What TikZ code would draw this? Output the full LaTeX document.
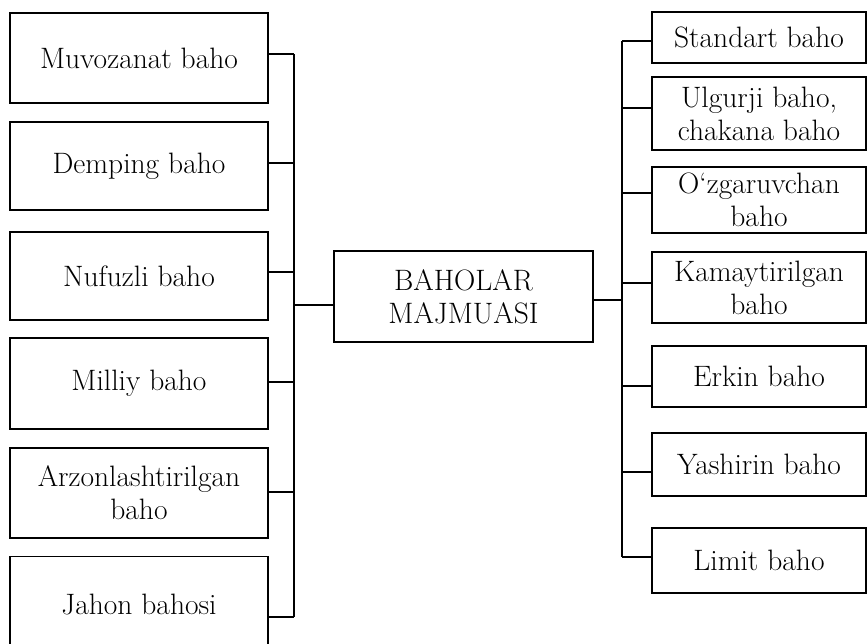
\documentclass[tikz,border=0pt]{standalone}

\tikzset{
  pricebox/.style={draw,line width=1.5pt,inner sep=0pt,align=center,
    font=\fontsize{29.5}{33}\selectfont},
  wire/.style={line width=1.3pt}
}

\begin{document}
\begin{tikzpicture}[x=1pt,y=-1pt]
        \useasboundingbox (0,0) rectangle (868,644);
        % left column
        \node[pricebox,minimum width=258pt,minimum height=90pt] (l1) at (139,58) {Muvozanat baho};
        \node[pricebox,minimum width=258pt,minimum height=88pt] (l2) at (139,166) {Demping baho};
        \node[pricebox,minimum width=258pt,minimum height=88pt] (l3) at (139,276) {Nufuzli baho};
        \node[pricebox,minimum width=258pt,minimum height=91pt] (l4) at (139,383.5) {Milliy baho};
        \node[pricebox,minimum width=258pt,minimum height=90pt] (l5) at (139,493) {Arzonlashtirilgan\\baho};
        \node[pricebox,minimum width=258pt,minimum height=95pt] (l6) at (139,604) {Jahon bahosi};
        % centre
        \node[pricebox,minimum width=259pt,minimum height=91pt] (hub) at (463.5,296.5) {BAHOLAR\\MAJMUASI};
        % right column
        \node[pricebox,minimum width=214pt,minimum height=51pt] (r1) at (759,37.5) {Standart baho};
        \node[pricebox,minimum width=214pt,minimum height=73pt] (r2) at (759,113.5) {Ulgurji baho,\\chakana baho};
        \node[pricebox,minimum width=214pt,minimum height=66pt] (r3) at (759,200) {O‘zgaruvchan\\baho};
        \node[pricebox,minimum width=214pt,minimum height=71pt] (r4) at (759,287.5) {Kamaytirilgan\\baho};
        \node[pricebox,minimum width=214pt,minimum height=61pt] (r5) at (759,376.5) {Erkin baho};
        \node[pricebox,minimum width=214pt,minimum height=63pt] (r6) at (759,464.5) {Yashirin baho};
        \node[pricebox,minimum width=214pt,minimum height=65pt] (r7) at (759,560.5) {Limit baho};
        % ticks to the two buses
        \foreach \n/\d in {l1/4,l2/3,l3/4,l4/1.5,l5/1,l6/-13}
          {\coordinate (t\n) at ([yshift=\d pt]\n.east -| 294,0);
           \draw[wire] ([yshift=\d pt]\n.east) -- (t\n);}
        \foreach \n/\d in {r1/-3.5,r2/5.5,r3/7,r4/4.5,r5/-9.5,r6/-7.5,r7/3.5}
          {\coordinate (t\n) at ([yshift=\d pt]\n.west -| 622,0);
           \draw[wire] ([yshift=\d pt]\n.west) -- (t\n);}
        \draw[wire] (tl1) -- (tl6);
        \draw[wire] (tr1) -- (tr7);
        \draw[wire] ([yshift=-8.5pt]hub.west) -- ([yshift=-8.5pt]hub.west -| tl1);
        \draw[wire] ([yshift=-3.5pt]hub.east) -- ([yshift=-3.5pt]hub.east -| tr1);
\end{tikzpicture}
\end{document}
